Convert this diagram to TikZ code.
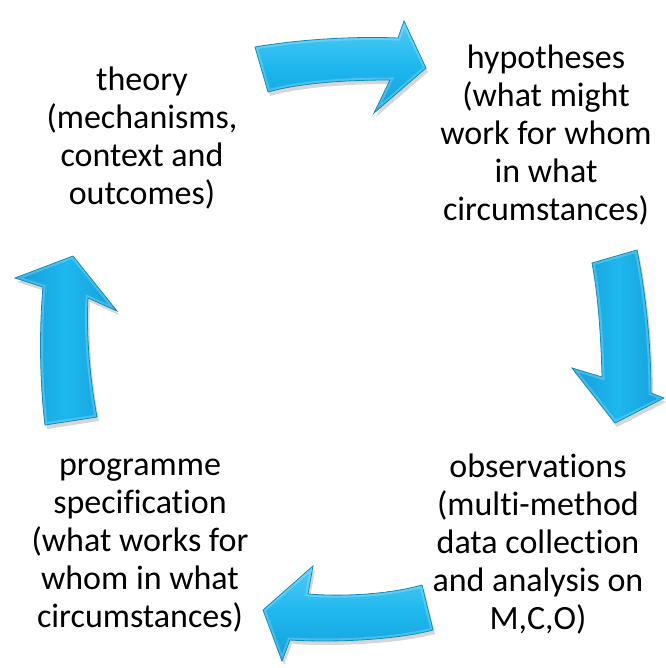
\documentclass[tikz,border=0pt]{standalone}
\usepackage{fontspec}
\setmainfont{Carlito}[RawFeature={-liga;-clig;-calt;-dlig}]
\usetikzlibrary{calc}
\definecolor{arrowmain}{HTML}{1DB7EE}
\definecolor{arrowlight}{HTML}{52CBF5}
\definecolor{arrowdark}{HTML}{149FD8}
\definecolor{arrowedge}{HTML}{0E8CC0}
\tikzset{
  label text/.style={align=center, inner sep=0pt, anchor=north,
    font=\fontsize{34}{38}\selectfont, text=black},
  arrow shadow/.style={fill=black, opacity=0.16},
  arrow body h/.style={top color=arrowlight, bottom color=arrowdark, middle color=arrowmain, shading angle=0},
  arrow body v/.style={left color=arrowdark, right color=arrowdark, middle color=arrowmain},
  arrow rim/.style={draw=arrowedge, line width=0.8pt, line join=miter},
  arrow bevel/.style={draw=white, line width=5pt, opacity=0.22},
}
\begin{document}
\begin{tikzpicture}[x=1pt,y=-1pt]
\useasboundingbox (0,0) rectangle (665,668);
\fill[white] (0,0) rectangle (665,668);

\def\toparrow{(255,47) .. controls (295,40) and (350,36) .. (398,38) -- (404,21) -- (426,68) -- (374,113) -- (390,80) .. controls (345,80) and (300,83) .. (268,92) -- cycle}
\def\rightarrow{(592,263) -- (637,250) .. controls (646,295) and (651,345) .. (651,393) -- (664,398) -- (615,423) -- (572,368) -- (602,377) .. controls (601,335) and (598,295) .. (592,263) -- cycle}
\def\bottomarrow{(422,585) -- (433,630) .. controls (400,639) and (340,643) .. (290,640) -- (282,661) -- (263,610) -- (313,566) -- (308,594) .. controls (345,597) and (390,594) .. (422,585) -- cycle}
\def\leftarrow{(45,425) -- (97,417) .. controls (90,380) and (86,335) .. (88,298) -- (117,311) -- (73,256) -- (15,278) -- (43,287) .. controls (39,330) and (40,385) .. (45,425) -- cycle}

% shadows
\begin{scope}[shift={(2,4)}]
  \fill[arrow shadow] \toparrow;
  \fill[arrow shadow] \rightarrow;
  \fill[arrow shadow] \bottomarrow;
  \fill[arrow shadow] \leftarrow;
\end{scope}

% bodies
\shade[arrow body h] \toparrow;
\shade[arrow body v] \rightarrow;
\shade[arrow body h] \bottomarrow;
\shade[arrow body v] \leftarrow;

% bevel highlights
\begin{scope}\clip \toparrow; \draw[arrow bevel] \toparrow; \end{scope}
\begin{scope}\clip \rightarrow; \draw[arrow bevel] \rightarrow; \end{scope}
\begin{scope}\clip \bottomarrow; \draw[arrow bevel] \bottomarrow; \end{scope}
\begin{scope}\clip \leftarrow; \draw[arrow bevel] \leftarrow; \end{scope}

% rims
\draw[arrow rim] \toparrow;
\draw[arrow rim] \rightarrow;
\draw[arrow rim] \bottomarrow;
\draw[arrow rim] \leftarrow;

% labels
\node[label text] (theory) at (142,62) {\rule{0pt}{28pt}theory\\(mechanisms,\\context and\\outcomes)};
\node[label text] (hyp) at (546,40) {\rule{0pt}{28pt}hypotheses\\(what might\\work for whom\\in what\\circumstances)};
\node[label text] (obs) at (538,449) {\rule{0pt}{28pt}observations\\(multi-method\\data collection\\and analysis on\\M,C,O)};
\node[label text] (prog) at (140,447) {\rule{0pt}{28pt}programme\\specification\\(what works for\\whom in what\\circumstances)};
\end{tikzpicture}
\end{document}
